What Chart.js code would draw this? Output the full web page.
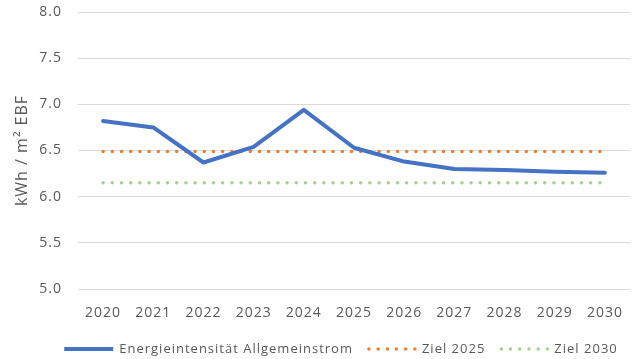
<!DOCTYPE html>
<html lang="de">
<head>
<meta charset="utf-8">
<title>Energieintensität Allgemeinstrom</title>
<script src="https://cdn.jsdelivr.net/npm/chart.js@4.4.1/dist/chart.umd.min.js"></script>
<style>
  html, body { margin: 0; padding: 0; background: #ffffff; }
  #wrap { width: 640px; height: 359px; position: relative; }
</style>
</head>
<body>
<div id="wrap"><canvas id="chart" width="640" height="359"></canvas></div>
<script>
// Jahre (Kategorien)
const jahre = ['2020', '2021', '2022', '2023', '2024', '2025', '2026', '2027', '2028', '2029', '2030'];
// Energieintensität Allgemeinstrom in kWh / m² EBF
const energieintensitaet = [6.82, 6.75, 6.37, 6.54, 6.94, 6.53, 6.38, 6.30, 6.29, 6.27, 6.26];
// Zielwerte
const ziel2025 = [6.49, 6.49, 6.49, 6.49, 6.49, 6.49, 6.49, 6.49, 6.49, 6.49, 6.49];
const ziel2030 = [6.15, 6.15, 6.15, 6.15, 6.15, 6.15, 6.15, 6.15, 6.15, 6.15, 6.15];
// Achsenbeschriftung
const yTicks = [5.0, 5.5, 6.0, 6.5, 7.0, 7.5, 8.0];
const yTitel = 'kWh / m\u00B2 EBF';
const serienNamen = ['Energieintensität Allgemeinstrom', 'Ziel 2025', 'Ziel 2030'];

const FONT = '"Open Sans", "Noto Sans", sans-serif';
const TEXT = '#595959';

// etwas weiter gesetzte Schrift für alle Beschriftungen
const spacing = {
  id: 'spacing',
  beforeDraw(chart) { chart.ctx.letterSpacing = '1px'; }
};

// senkrechter Achsentitel links
const yTitle = {
  id: 'yTitle',
  afterDraw(chart) {
    const ctx = chart.ctx;
    const a = chart.chartArea;
    ctx.save();
    ctx.letterSpacing = '1px';
    ctx.font = '16px ' + FONT;
    ctx.fillStyle = TEXT;
    ctx.textAlign = 'center';
    ctx.textBaseline = 'middle';
    ctx.translate(22, (a.top + a.bottom) / 2);
    ctx.rotate(-Math.PI / 2);
    ctx.fillText(yTitel, 0, 0);
    ctx.restore();
  }
};

// Legende unterhalb des Diagramms
const bottomLegend = {
  id: 'bottomLegend',
  afterDraw(chart) {
    const ctx = chart.ctx;
    const y = 349;
    const symW = 49, gapSym = 6, gapItem = 14;
    ctx.save();
    ctx.letterSpacing = '1px';
    ctx.font = '13px ' + FONT;
    const widths = chart.data.datasets.map(d => ctx.measureText(d.label).width);
    let total = 0;
    widths.forEach(w => { total += symW + gapSym + w; });
    total += gapItem * (widths.length - 1);
    let x = 341 - total / 2;
    chart.data.datasets.forEach((d, i) => {
      ctx.beginPath();
      ctx.strokeStyle = d.borderColor;
      ctx.lineWidth = d.borderWidth;
      if (d.borderDash && d.borderDash.length) {
        ctx.lineCap = 'round';
        ctx.setLineDash(d.borderDash);
        ctx.moveTo(x + 2, y);
        ctx.lineTo(x + symW, y);
      } else {
        ctx.lineCap = 'butt';
        ctx.setLineDash([]);
        ctx.moveTo(x, y);
        ctx.lineTo(x + symW, y);
      }
      ctx.stroke();
      ctx.setLineDash([]);
      x += symW + gapSym;
      ctx.fillStyle = TEXT;
      ctx.textBaseline = 'middle';
      ctx.textAlign = 'left';
      ctx.fillText(d.label, x, y);
      x += widths[i] + gapItem;
    });
    ctx.restore();
  }
};

new Chart(document.getElementById('chart'), {
  type: 'line',
  data: {
    labels: jahre,
    datasets: [
      {
        label: serienNamen[0],
        data: energieintensitaet,
        borderColor: '#4472C4',
        backgroundColor: '#4472C4',
        borderWidth: 4,
        borderJoinStyle: 'round',
        borderCapStyle: 'round',
        pointRadius: 0,
        tension: 0,
        order: 0
      },
      {
        label: serienNamen[1],
        data: ziel2025,
        borderColor: '#ED7D31',
        backgroundColor: '#ED7D31',
        borderWidth: 3.5,
        borderDash: [0, 9.2],
        borderCapStyle: 'round',
        pointRadius: 0,
        tension: 0,
        order: 1
      },
      {
        label: serienNamen[2],
        data: ziel2030,
        borderColor: '#A9D18E',
        backgroundColor: '#A9D18E',
        borderWidth: 3.5,
        borderDash: [0, 9.2],
        borderCapStyle: 'round',
        pointRadius: 0,
        tension: 0,
        order: 2
      }
    ]
  },
  options: {
    responsive: false,
    animation: false,
    devicePixelRatio: 1,
    layout: { padding: { top: 12, right: 10, bottom: 30, left: 0 } },
    plugins: {
      legend: { display: false },
      tooltip: { enabled: false }
    },
    scales: {
      x: {
        offset: true,
        grid: { display: false, drawTicks: false },
        border: { display: false },
        ticks: { color: TEXT, font: { family: FONT, size: 14 }, padding: 16, maxRotation: 0 },
        afterFit(s) { s.height = 40; }
      },
      y: {
        min: yTicks[0],
        max: yTicks[yTicks.length - 1],
        afterBuildTicks(s) { s.ticks = yTicks.map(v => ({ value: v })); },
        grid: { color: '#D9D9D9', lineWidth: 1, drawTicks: false },
        border: { display: false },
        ticks: {
          color: TEXT,
          font: { family: FONT, size: 14 },
          padding: 16,
          callback: v => Number(v).toFixed(1)
        },
        afterFit(s) {
          s.width = 78;
          s.paddingTop = 0;
          s.paddingBottom = 0;
        }
      }
    }
  },
  plugins: [spacing, yTitle, bottomLegend]
});
</script>
</body>
</html>
